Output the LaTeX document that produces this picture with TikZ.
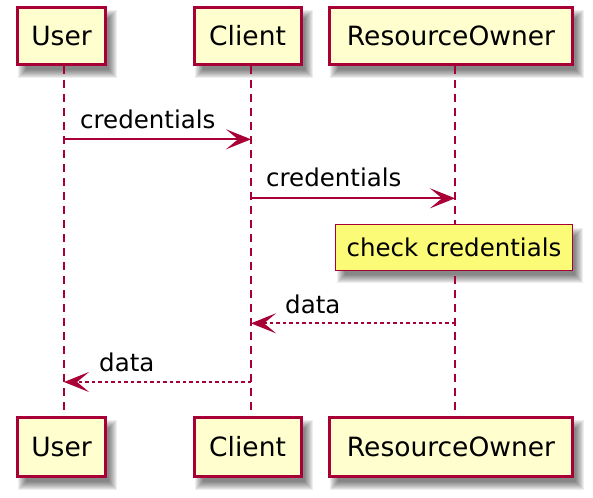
\documentclass[tikz,border=0pt]{standalone}
\usepackage{fontspec}
\setmainfont{DejaVu Sans}
\usetikzlibrary{arrows.meta,calc}
\definecolor{puBorder}{HTML}{A80036}
\definecolor{puFill}{HTML}{FEFECE}
\definecolor{puNote}{HTML}{FBFB77}
\pgfdeclarelayer{bg}
\pgfdeclarelayer{paper}
\pgfsetlayers{paper,bg,main}
\newcommand{\softshadow}[1]{%
  \begin{pgfonlayer}{bg}
  \foreach \r in {-4,...,4} {
    \fill[black,opacity=0.065] ($(#1.north west)+(6-\r,8-\r)$) rectangle ($(#1.south east)+(6+\r,8+\r)$);
  }
  \end{pgfonlayer}}
\tikzset{
  participant/.style={draw=puBorder, fill=puFill, line width=3pt, inner sep=0pt,
    font=\fontsize{26.5}{32}\selectfont, text=black},
  lifeline/.style={draw=puBorder, line width=1.6pt, dash pattern=on 8pt off 6pt},
  msg/.style={draw=puBorder, line width=1.8pt, -{Stealth[length=25pt,width=20pt,inset=12pt]}},
  reply/.style={msg, dash pattern=on 3.5pt off 3pt},
  msglabel/.style={anchor=base west, inner sep=0pt, font=\fontsize{24.5}{30}\selectfont, text=black},
  notebox/.style={draw=puBorder, fill=puNote, line width=1pt, inner sep=0pt,
    font=\fontsize{24.5}{30}\selectfont, text=black},
}
\begin{document}
\begin{tikzpicture}[x=1pt,y=-1pt]
\begin{pgfonlayer}{paper}
\fill[white] (0,0) rectangle (593,497);
\end{pgfonlayer}
\useasboundingbox (0,0) rectangle (593,497);
% participants top
\node[participant, minimum width=88.6pt, minimum height=57.5pt] (uTop) at (61.5,35.8) {User};
\node[participant, minimum width=106.8pt, minimum height=57.5pt] (cTop) at (247.6,35.8) {Client};
\node[participant, minimum width=243pt, minimum height=57.5pt] (rTop) at (451,35.8) {ResourceOwner};
% participants bottom
\node[participant, minimum width=88.6pt, minimum height=59pt] (uBot) at (61.5,446.9) {User};
\node[participant, minimum width=106.8pt, minimum height=59pt] (cBot) at (247.6,446.9) {Client};
\node[participant, minimum width=243pt, minimum height=59pt] (rBot) at (451,446.9) {ResourceOwner};
\softshadow{uTop}\softshadow{cTop}\softshadow{rTop}
\softshadow{uBot}\softshadow{cBot}\softshadow{rBot}
% lifelines
\coordinate (uL1) at (64,66);  \coordinate (uL2) at (64,416);
\coordinate (cL1) at (251,66); \coordinate (cL2) at (251,416);
\coordinate (rL1) at (455,66); \coordinate (rL2) at (455,416);
\draw[lifeline] (uL1) -- (uL2);
\draw[lifeline] (cL1) -- (cL2);
\draw[lifeline] (rL1) -- (rL2);
% messages
\coordinate (m1a) at (64,139.3);  \coordinate (m1b) at (251,139.3);
\draw[msg] (m1a) -- (m1b);
\node[msglabel] (l1) at (80,129) {credentials};
\coordinate (m2a) at (251,198.3); \coordinate (m2b) at (455,198.3);
\draw[msg] (m2a) -- (m2b);
\node[msglabel] (l2) at (266,186.7) {credentials};
% note
\node[notebox, minimum width=236.6pt, minimum height=46pt] (note) at (454,247) {check credentials};
\softshadow{note}
% replies
\coordinate (m3a) at (455,323.3); \coordinate (m3b) at (251,323.3);
\draw[reply] (m3a) -- (m3b);
\node[msglabel] (l3) at (285,313) {data};
\coordinate (m4a) at (251,382); \coordinate (m4b) at (64,382);
\draw[reply] (m4a) -- (m4b);
\node[msglabel] (l4) at (99,371.7) {data};
\end{tikzpicture}
\end{document}
